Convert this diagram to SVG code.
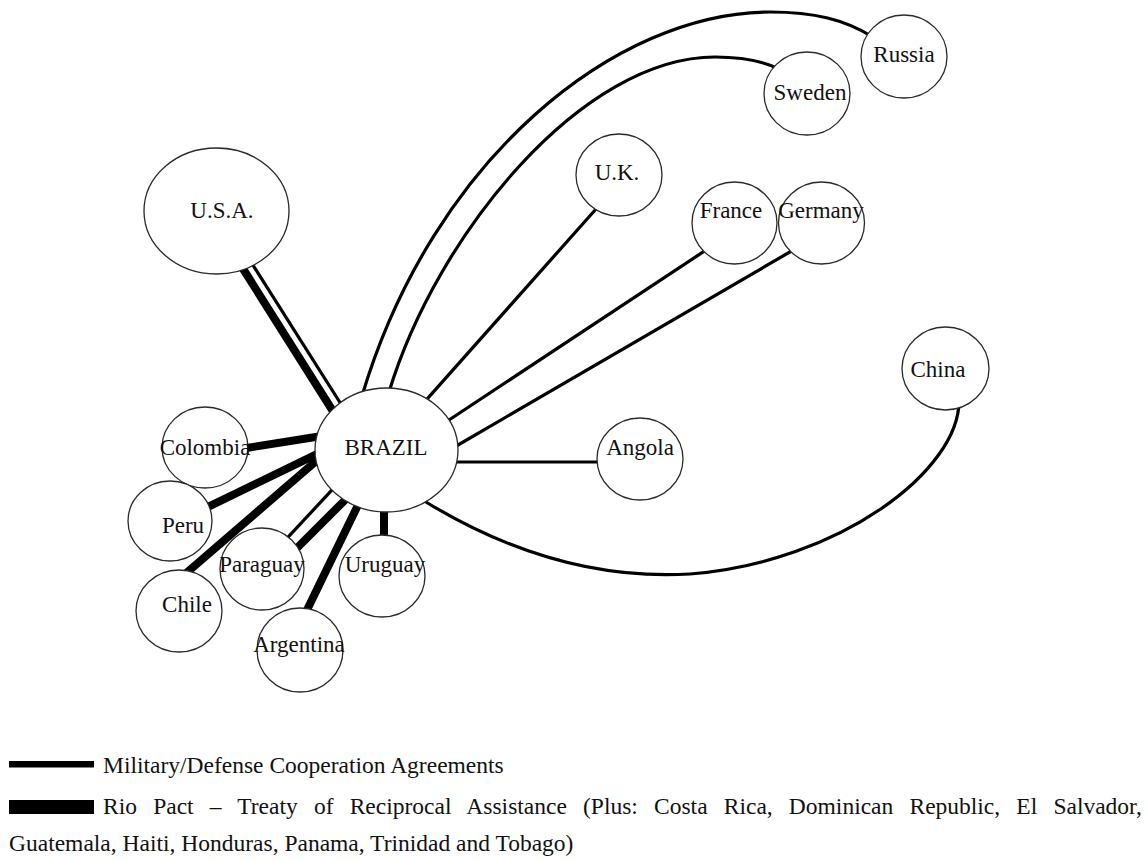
<svg xmlns="http://www.w3.org/2000/svg" width="1148" height="861" viewBox="0 0 1148 861">
  <style>
    .node ellipse { fill: #fff; stroke: #2a2a2a; stroke-width: 1.3; }
    .node text { font-family: "Liberation Serif", "Times New Roman", serif; font-size: 23px; fill: #111; text-anchor: middle; }
    .mil { fill: none; stroke: #000; stroke-width: 3.2; stroke-linecap: butt; }
    .rio { fill: none; stroke: #000; stroke-width: 8; stroke-linecap: butt; }
    .legend text { font-family: "Liberation Serif", "Times New Roman", serif; font-size: 23.5px; fill: #111; }
  </style>
  <rect width="1148" height="861" fill="#fff"/>

  <!-- links between Brazil and its partners -->
  <g id="connectors">
    <!-- Rio Pact links -->
    <path class="rio" d="M240,264 L336,416"/>
    <path class="rio" d="M240,449 L322,436"/>
    <path class="rio" d="M205,508.4 L322,451.6"/>
    <path class="rio" d="M186,573.2 L322,456"/>
    <path class="rio" d="M295,550 L347,498"/>
    <path class="rio" d="M306,612 L359,503"/>
    <path class="rio" d="M384,505 L384,545"/>
    <!-- military / defense cooperation links -->
    <path class="mil" d="M251,262 L346,412"/>
    <path class="mil" d="M286,539.3 L336,485.6"/>
    <path class="mil" d="M450,462 L605,462"/>
    <path class="mil" d="M423,403.6 L600,204.5"/>
    <path class="mil" d="M446,422 L708,248.7"/>
    <path class="mil" d="M452,448.5 L795,249"/>
    <path class="mil" d="M362,396 C433,158 616,12 770,12 C815,12 845,20 871,36"/>
    <path class="mil" d="M389,392 C437,234 582,57 715,57 C745,57 765,62 779,69"/>
    <path class="mil" d="M421,499 C500,548 590,580 690,574 C840,562 960,470 959,400"/>
  </g>

  <g id="brazil" class="node">
    <ellipse cx="386.5" cy="450" rx="71.5" ry="62"/>
    <text x="386" y="455">BRAZIL</text>
  </g>
  <g id="usa" class="node">
    <ellipse cx="216.5" cy="211" rx="72.5" ry="63"/>
    <text x="222" y="218">U.S.A.</text>
  </g>
  <g id="colombia" class="node">
    <ellipse cx="205" cy="447.5" rx="43" ry="40.5"/>
    <text x="205" y="455">Colombia</text>
  </g>
  <g id="peru" class="node">
    <ellipse cx="170" cy="521" rx="42" ry="40"/>
    <text x="183" y="533">Peru</text>
  </g>
  <g id="chile" class="node">
    <ellipse cx="179" cy="611" rx="43" ry="41"/>
    <text x="187" y="612">Chile</text>
  </g>
  <g id="paraguay" class="node">
    <ellipse cx="262" cy="569" rx="42" ry="41"/>
    <text x="262" y="572">Paraguay</text>
  </g>
  <g id="uruguay" class="node">
    <ellipse cx="382" cy="576" rx="43" ry="41"/>
    <text x="385" y="572">Uruguay</text>
  </g>
  <g id="argentina" class="node">
    <ellipse cx="300" cy="650" rx="43" ry="42"/>
    <text x="299" y="652">Argentina</text>
  </g>
  <g id="angola" class="node">
    <ellipse cx="640" cy="459" rx="43" ry="41"/>
    <text x="640" y="455">Angola</text>
  </g>
  <g id="china" class="node">
    <ellipse cx="945.5" cy="368.5" rx="43.5" ry="41.5"/>
    <text x="938" y="377">China</text>
  </g>
  <g id="uk" class="node">
    <ellipse cx="619" cy="175" rx="43" ry="41"/>
    <text x="617" y="180">U.K.</text>
  </g>
  <g id="france" class="node">
    <ellipse cx="734.5" cy="223" rx="42.5" ry="41"/>
    <text x="731" y="218">France</text>
  </g>
  <g id="germany" class="node">
    <ellipse cx="821.5" cy="223" rx="43" ry="41"/>
    <text x="821" y="218">Germany</text>
  </g>
  <g id="sweden" class="node">
    <ellipse cx="807" cy="93.5" rx="43" ry="41.5"/>
    <text x="810" y="100">Sweden</text>
  </g>
  <g id="russia" class="node">
    <ellipse cx="904" cy="56.5" rx="43" ry="41.5"/>
    <text x="904" y="62">Russia</text>
  </g>

  <!-- key -->
  <g id="legend" class="legend">
    <rect x="9" y="761" width="85" height="6.5" fill="#000"/>
    <text x="103" y="773">Military/Defense Cooperation Agreements</text>
    <rect x="9" y="800" width="85" height="14" fill="#000"/>
    <text x="103" y="814" word-spacing="10.3">Rio Pact – Treaty of Reciprocal Assistance (Plus: Costa Rica, Dominican Republic, El Salvador,</text>
    <text x="9" y="851">Guatemala, Haiti, Honduras, Panama, Trinidad and Tobago)</text>
  </g>
</svg>
